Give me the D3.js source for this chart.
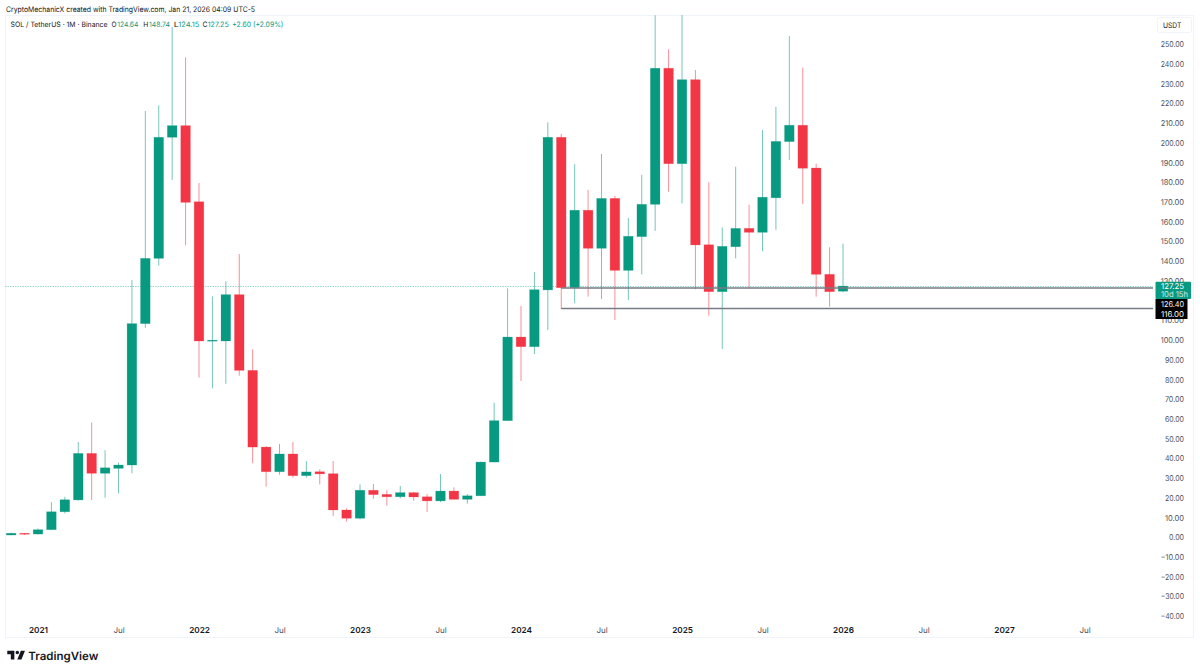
<!DOCTYPE html>
<html>
<head>
<meta charset="utf-8">
<script src="https://cdnjs.cloudflare.com/ajax/libs/d3/7.8.5/d3.min.js"></script>
<style>
    html, body { margin: 0; padding: 0; background: #fff; }
    svg { display: block; }
    /* linear glyph advances, small sizes otherwise get rounded wider */
    text { font-family: Inter, "Noto Sans", sans-serif; text-rendering: geometricPrecision; }
</style>
</head>
<body>
<div id="chart-container"></div>
<script>
// monthly candles, Nov 2020 to Jan 2026
const startMonth = new Date(2020, 10, 1);
const opens = [1.0, 1.9, 1.5, 3.7, 12.8, 18.8, 42.4, 32.3, 34.8, 36.5, 108.2, 141.3, 202.7, 208.6, 170.0, 99.4, 99.4, 122.9, 84.5, 45.6, 33.1, 42.1, 31.1, 33.1, 32.1, 13.7, 9.5, 23.7, 21.6, 20.4, 22.5, 20.4, 18.3, 23.3, 19.1, 20.9, 38.0, 59.0, 101.4, 96.5, 125.3, 202.7, 126.4, 165.7, 146.4, 171.7, 135.2, 152.3, 168.7, 237.7, 189.3, 231.9, 148.2, 124.4, 147.2, 156.5, 154.5, 172.0, 200.5, 208.8, 187.1, 133.2, 124.64];
const highs = [2.2, 2.0, 4.4, 17.7, 20.4, 48.2, 58.1, 44.0, 37.7, 130.3, 216.0, 218.9, 258.6, 243.2, 179.5, 122.0, 129.7, 143.5, 95.2, 46.1, 47.2, 48.2, 38.5, 34.3, 38.5, 14.5, 26.7, 26.9, 23.7, 25.9, 22.8, 21.8, 31.9, 25.2, 21.8, 38.2, 68.1, 126.1, 117.1, 134.4, 210.3, 204.4, 189.0, 176.0, 194.2, 172.9, 161.8, 183.6, 264.6, 247.3, 295.0, 236.8, 179.9, 157.0, 187.8, 168.5, 206.4, 218.2, 254.0, 238.0, 189.3, 146.9, 148.74];
const lows = [0.9, 1.0, 1.2, 3.5, 12.0, 18.4, 18.8, 19.9, 22.1, 32.3, 106.1, 137.6, 181.0, 148.0, 80.8, 75.4, 77.7, 81.8, 37.4, 25.5, 31.6, 30.1, 30.1, 26.7, 10.6, 7.8, 9.0, 19.4, 15.9, 19.6, 18.4, 12.7, 17.7, 19.1, 16.9, 20.9, 37.9, 58.8, 79.1, 92.8, 105.0, 115.6, 118.5, 121.9, 120.7, 110.0, 120.2, 133.2, 155.2, 175.1, 169.2, 125.6, 112.2, 95.3, 141.3, 126.1, 144.9, 155.8, 191.2, 168.9, 121.9, 116.8, 124.15];
const closes = [1.9, 1.5, 3.7, 12.8, 18.9, 42.4, 32.3, 35.1, 36.5, 108.2, 141.3, 202.7, 208.6, 169.7, 99.4, 99.8, 122.9, 84.5, 45.6, 33.1, 42.1, 31.1, 33.0, 32.0, 13.7, 9.5, 23.7, 21.5, 20.4, 22.5, 20.3, 18.3, 23.3, 19.1, 20.9, 38.0, 59.0, 101.4, 96.5, 125.4, 202.7, 126.4, 165.7, 146.4, 171.7, 135.2, 152.5, 168.7, 237.7, 189.3, 231.9, 148.1, 124.4, 147.4, 156.5, 154.5, 172.3, 200.6, 208.8, 187.0, 133.2, 124.4, 127.25];

const priceTicks = [-40, -30, -20, -10, 0, 10, 20, 30, 40, 50, 60, 70, 80, 90, 100, 110, 120, 130, 140, 150, 160, 170, 180, 190, 200, 210, 220, 230, 240, 250];
const timeTicks = [new Date(2021, 0, 1), new Date(2021, 6, 1), new Date(2022, 0, 1), new Date(2022, 6, 1), new Date(2023, 0, 1), new Date(2023, 6, 1), new Date(2024, 0, 1), new Date(2024, 6, 1), new Date(2025, 0, 1), new Date(2025, 6, 1), new Date(2026, 0, 1), new Date(2026, 6, 1), new Date(2027, 0, 1), new Date(2027, 6, 1)];
const levels = [126.40, 116.00];
const levelStart = new Date(2024, 3, 1);
const lastPrice = 127.25;

const upColor = "#089981";
const downColor = "#f23645";
const textColor = "#131722";
const axisColor = "#4a4d57";

const width = 1200, height = 672;
const pane = { left: 5, right: 1153, top: 15, bottom: 637, edge: 1193 };

const monthIndex = d => (d.getFullYear() - startMonth.getFullYear()) * 12 + d.getMonth() - startMonth.getMonth();
const monthDate = i => new Date(startMonth.getFullYear(), startMonth.getMonth() + i, 1);

// both scales are linear: TradingView gives every month the same width
const x = d3.scaleLinear().domain([2, 74]).range([38, 1004]);
const xDate = d => x(monthIndex(d));
const y = d3.scaleLinear().domain([0, 250]).range([537, 44]);

const candles = opens.map((o, i) => ({ i, o, h: highs[i], l: lows[i], c: closes[i] }));

const svg = d3.select("#chart-container")
    .append("svg")
    .attr("width", width)
    .attr("height", height);

// text squeezed to a measured width, Inter runs wider than the reference font
function fitText(parent, str, px, py, size, w, color) {
    return parent.append("text")
        .attr("x", px).attr("y", py)
        .attr("font-size", size).attr("fill", color)
        .attr("textLength", w).attr("lengthAdjust", "spacingAndGlyphs")
        .text(str);
}

fitText(svg, "CryptoMechanicX created with TradingView.com, Jan 21, 2026 04:09 UTC-5", 6, 12, 7.6, 249, textColor);

// pane frame
svg.append("rect")
    .attr("x", pane.left + 0.5).attr("y", pane.top + 0.5)
    .attr("width", pane.edge - pane.left).attr("height", pane.bottom - pane.top)
    .attr("fill", "none").attr("stroke", "#f0f3fa");

svg.append("clipPath").attr("id", "pane-clip")
    .append("rect")
    .attr("x", pane.left).attr("y", pane.top)
    .attr("width", pane.right - pane.left).attr("height", pane.bottom - pane.top);

const plot = svg.append("g").attr("clip-path", "url(#pane-clip)");

// last price dotted line
plot.append("line")
    .attr("x1", pane.left).attr("x2", pane.right)
    .attr("y1", Math.round(y(lastPrice)) + 0.5).attr("y2", Math.round(y(lastPrice)) + 0.5)
    .attr("stroke", "#22ab94").attr("stroke-width", 1)
    .attr("stroke-dasharray", "1.5 1").attr("opacity", 0.45);

const candleColor = d => d.c >= d.o ? upColor : downColor;

plot.selectAll(".wick")
    .data(candles)
    .enter()
    .append("line")
    .attr("class", "wick")
    .attr("x1", d => x(d.i)).attr("x2", d => x(d.i))
    .attr("y1", d => y(d.h)).attr("y2", d => y(d.l))
    .attr("stroke", candleColor)
    .attr("stroke-width", 1)
    .attr("opacity", 0.55);

plot.selectAll(".body")
    .data(candles)
    .enter()
    .append("rect")
    .attr("class", "body")
    .attr("x", d => x(d.i) - 4.8)
    .attr("width", 9.6)
    .attr("y", d => y(Math.max(d.o, d.c)))
    .attr("height", d => Math.max(1, Math.abs(y(d.o) - y(d.c))))
    .attr("fill", candleColor)
    .attr("stroke", candleColor)
    .attr("stroke-opacity", 0.3)
    .attr("stroke-width", 0.7);

// the two drawn horizontal levels
plot.selectAll(".level")
    .data(levels)
    .enter()
    .append("line")
    .attr("class", "level")
    .attr("x1", xDate(levelStart)).attr("x2", pane.right)
    .attr("y1", d => y(d) + 0.3).attr("y2", d => y(d) + 0.3)
    .attr("stroke", "#787b86").attr("stroke-width", 1.5);

// price axis, labels end at x=1184
const yAxis = svg.append("g")
    .attr("transform", `translate(${pane.right + 31},0.2)`)
    .call(d3.axisRight(y).tickValues(priceTicks).tickSize(0).tickPadding(0)
        .tickFormat(d => (d < 0 ? "\u2212" + Math.abs(d).toFixed(2) : d.toFixed(2))));
yAxis.select(".domain").remove();
yAxis.selectAll("text")
    .attr("text-anchor", "end")
    .attr("font-size", 8).attr("fill", axisColor)
    .attr("textLength", d => 4.2 * (d < 0 ? 6 : d.toFixed(2).length) - 1.9)
    .attr("lengthAdjust", "spacingAndGlyphs")
    .style("font-family", "Inter, sans-serif");

// time axis
const xAxis = svg.append("g")
    .attr("transform", "translate(0,632.5)")
    .call(d3.axisBottom(x)
        .tickValues(timeTicks.map(monthIndex)).tickSize(0).tickPadding(0)
        .tickFormat(i => { const d = monthDate(i); return d.getMonth() === 0 ? d.getFullYear() : "Jul"; }));
xAxis.select(".domain").remove();
xAxis.selectAll("text")
    .attr("dy", "0")
    .attr("font-size", i => monthDate(i).getMonth() === 0 ? 8.2 : 8)
    .attr("fill", i => monthDate(i).getMonth() === 0 ? textColor : axisColor)
    .attr("font-weight", i => monthDate(i).getMonth() === 0 ? 600 : 400)
    .style("font-family", "Inter, sans-serif");

// currency box
svg.append("rect")
    .attr("x", 1157.5).attr("y", 17.5).attr("width", 34).attr("height", 15).attr("rx", 2)
    .attr("fill", "#fff").attr("stroke", "#f0f3fa");
fitText(svg, "USDT", 1163, 27.5, 7.6, 18.3, textColor);

// price tags
svg.append("rect")
    .attr("x", 1155.5).attr("y", 281.7).attr("width", 35.5).attr("height", 17.3).attr("rx", 1)
    .attr("fill", upColor);
fitText(svg, "127.25", 1161, 289.4, 8, 23, "#fff");
fitText(svg, "10d 15h", 1161, 297, 8, 27, "#fff").attr("opacity", 0.8);

svg.selectAll(".tag")
    .data(levels)
    .enter()
    .append("rect")
    .attr("class", "tag")
    .attr("x", 1155.5).attr("width", 32)
    .attr("y", (d, i) => 299 + i * 10).attr("height", 10)
    .attr("fill", "#000");
levels.forEach((d, i) => fitText(svg, d.toFixed(2), 1161, 307 + i * 9.7, 8, 23, "#fff"));

// legend line, pieces placed where the reference has them
fitText(svg, "SOL / TetherUS \u00b7 1M \u00b7 Binance", 10.5, 27.3, 7.4, 97, textColor);
[["O", "124.64", 111.5, 117.3], ["H", "148.74", 143.2, 149], ["L", "124.15", 173.8, 178.3], ["C", "127.25", 202.5, 207.7]].forEach(p => {
    fitText(svg, p[0], p[2], 27.3, 7.4, 5, textColor);
    fitText(svg, p[1], p[3], 27.3, 7.4, 21, upColor);
});
fitText(svg, "+2.60 (+2.09%)", 232.3, 27.3, 7.4, 51, upColor);

// TradingView mark
svg.append("path")
    .attr("transform", "translate(6.1,647.2) scale(0.59)")
    .attr("d", "M14 6H2v6h6v9h6V6Zm12 15h-7l6-15h7l-6 15Zm-7-9a3 3 0 1 0 0-6 3 3 0 0 0 0 6Z")
    .attr("fill", textColor);
fitText(svg, "TradingView", 28.3, 659.7, 11.5, 70, textColor).attr("font-weight", 600);
</script>
</body>
</html>
